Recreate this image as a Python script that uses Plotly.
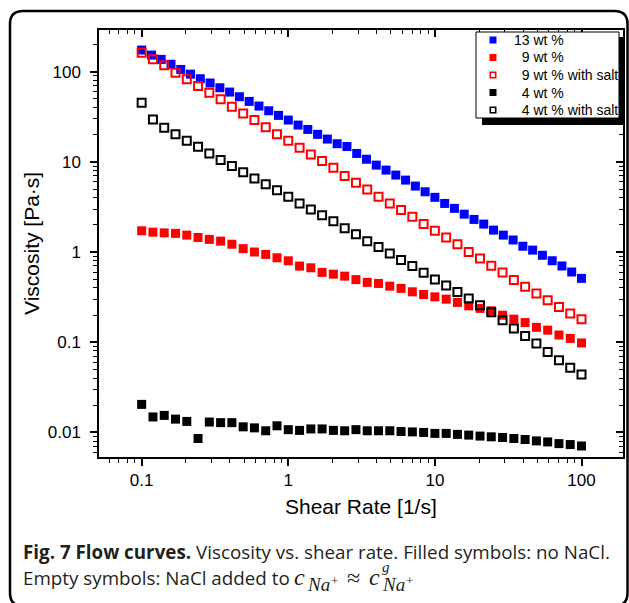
import plotly.graph_objects as go

# ---------------- data ----------------
# shear rates, 13 points per decade
rates13 = [0.1, 0.1194, 0.1425, 0.1701, 0.2031, 0.2424, 0.2894, 0.3455, 0.4125, 0.4924, 0.5878, 0.7017, 0.8377,
           1.0, 1.194, 1.425, 1.701, 2.031, 2.424, 2.894, 3.455, 4.125, 4.924, 5.878, 7.017, 8.377,
           10.0, 11.94, 14.25, 17.01, 20.31, 24.24, 28.94, 34.55, 41.25, 49.24, 58.78, 70.17, 83.77, 100.0]
# shear rates, 15 points per decade (13 wt % series)
rates15 = [0.1, 0.1166, 0.1359, 0.1585, 0.1848, 0.2154, 0.2512, 0.2929, 0.3415, 0.3981, 0.4642, 0.5412, 0.631, 0.7356, 0.8577,
           1.0, 1.166, 1.359, 1.585, 1.848, 2.154, 2.512, 2.929, 3.415, 3.981, 4.642, 5.412, 6.31, 7.356, 8.577,
           10.0, 11.66, 13.59, 15.85, 18.48, 21.54, 25.12, 29.29, 34.15, 39.81, 46.42, 54.12, 63.1, 73.56, 85.77,
           100.0]

visc_13 = [174, 153, 137, 121, 106, 94, 83.6, 75, 66.4, 59.5, 52.8, 46.9, 41.6, 36.9, 32.8, 29.1,
           25.6, 22.9, 20.2, 17.9, 15.9, 14.8, 12.4, 10.7, 9.21, 8.11, 7.14, 6.28, 5.39, 4.66, 4.04,
           3.46, 3.05, 2.63, 2.30, 2.04, 1.75, 1.54, 1.36, 1.16, 1.05, 0.92, 0.80, 0.70, 0.60, 0.51]

visc_9 = [1.72, 1.66, 1.63, 1.61, 1.54, 1.45, 1.38, 1.32, 1.22, 1.09, 1.00, 0.94, 0.863, 0.799,
          0.698, 0.668, 0.594, 0.568, 0.540, 0.494, 0.460, 0.448, 0.418, 0.395, 0.362, 0.338, 0.318,
          0.300, 0.276, 0.253, 0.237, 0.223, 0.199, 0.180, 0.165, 0.146, 0.136, 0.120, 0.110, 0.098]

visc_9_salt = [162.5, 137.3, 117.8, 97.5, 82.4, 69.4, 58.5, 49.4, 40.9, 34.5, 29.1, 24.2, 20.3, 17.1,
               14.3, 12.1, 10.2, 8.60, 6.96, 5.86, 4.95, 4.10, 3.46, 2.92, 2.46, 2.04, 1.72, 1.45, 1.22,
               1.00, 0.849, 0.703, 0.594, 0.488, 0.411, 0.347, 0.292, 0.246, 0.208, 0.179]

visc_4 = [0.0204, 0.0148, 0.0154, 0.0140, 0.0132, 0.00853, 0.0130, 0.0128, 0.0128, 0.0115, 0.0112,
          0.0104, 0.0118, 0.0107, 0.0105, 0.0109, 0.0109, 0.0105, 0.0104, 0.0107, 0.0104, 0.0104,
          0.0104, 0.0102, 0.0101, 0.00997, 0.00972, 0.00972, 0.00948, 0.00931, 0.00908, 0.00891,
          0.00875, 0.00853, 0.00832, 0.00803, 0.00782, 0.00749, 0.00731, 0.00705]

visc_4_salt = [45.3, 29.6, 23.9, 20.2, 17.1, 14.7, 12.4, 10.5, 8.98, 7.65, 6.56, 5.63, 4.83, 4.10,
               3.46, 2.97, 2.55, 2.20, 1.83, 1.57, 1.32, 1.14, 0.965, 0.813, 0.698, 0.588, 0.496,
               0.426, 0.359, 0.305, 0.257, 0.215, 0.175, 0.142, 0.117, 0.0968, 0.078, 0.063, 0.0519,
               0.0438]

NBSP = "\u00a0"
series_names = ["13 wt %", NBSP * 2 + "9 wt %", NBSP * 2 + "9 wt % with salt",
                NBSP * 2 + "4 wt %", NBSP * 2 + "4 wt % with salt"]

# ---------------- figure geometry ----------------
W, H = 629, 603
L, R, T, B = 99, 6, 30, 146
PW, PH = W - L - R, H - T - B


def px2x(px):
    return (px - L) / PW


def px2y(py):
    return (H - B - py) / PH


SANS = "Liberation Sans, Arial, sans-serif"

fig = go.Figure()

specs = [
    (rates15, visc_13, "square", "#0000ff", None),
    (rates13, visc_9, "square", "#ff0000", None),
    (rates13, visc_9_salt, "square-open", "#ff0000", 2),
    (rates13, visc_4, "square", "#000000", None),
    (rates13, visc_4_salt, "square-open", "#000000", 2),
]
for (xs, ys, sym, col, lw), name in zip(specs, series_names):
    marker = dict(symbol=sym, color=col, size=9 if lw is None else 8)
    if lw is not None:
        marker["line"] = dict(color=col, width=lw)
    else:
        marker["line"] = dict(width=0)
    fig.add_trace(go.Scatter(x=xs, y=ys, mode="markers", name=name.replace(NBSP, ""),
                             marker=marker, showlegend=False))

# dummy trace for the mirrored (inward-tick) top/right axes
fig.add_trace(go.Scatter(x=[None], y=[None], xaxis="x2", yaxis="y2", showlegend=False,
                         hoverinfo="skip", mode="markers"))

xr = [-1.291, 2.283]
yr = [-2.274, 2.463]

common = dict(type="log", showgrid=False, zeroline=False, dtick=1, exponentformat="none",
              tickcolor="black", tickwidth=1.5)

fig.update_layout(
    width=W, height=H,
    margin=dict(l=L, r=R, t=T, b=B, autoexpand=False),
    paper_bgcolor="white", plot_bgcolor="white",
    showlegend=False,
    xaxis=dict(range=xr, showline=True, linecolor="black", linewidth=1.5, mirror=True,
               ticks="outside", ticklen=7,
               tickfont=dict(family=SANS, size=17, color="black"),
               minor=dict(dtick="D1", ticks="outside", ticklen=4, tickwidth=1.2,
                          tickcolor="black", showgrid=False),
               **common),
    yaxis=dict(range=yr, showline=True, linecolor="black", linewidth=1.5, mirror=True,
               ticks="outside", ticklen=7, ticklabelstandoff=6,
               tickfont=dict(family=SANS, size=17, color="black"),
               minor=dict(dtick="D1", ticks="outside", ticklen=4, tickwidth=1.2,
                          tickcolor="black", showgrid=False),
               **common),
    xaxis2=dict(range=xr, overlaying="x", side="top", anchor="y", showline=False,
                ticks="inside", ticklen=7, showticklabels=False,
                minor=dict(dtick="D1", ticks="inside", ticklen=4, tickwidth=1.2,
                           tickcolor="black", showgrid=False),
                **common),
    yaxis2=dict(range=yr, overlaying="y", side="right", anchor="x", showline=False,
                ticks="inside", ticklen=7, showticklabels=False,
                minor=dict(dtick="D1", ticks="inside", ticklen=4, tickwidth=1.2,
                           tickcolor="black", showgrid=False),
                **common),
)

# ---------------- legend (boxed, with drop shadow) ----------------
fig.add_shape(type="rect", xref="paper", yref="paper",
              x0=px2x(482), x1=px2x(625), y0=px2y(125), y1=px2y(37),
              fillcolor="black", line=dict(width=0), layer="above")
fig.add_shape(type="rect", xref="paper", yref="paper",
              x0=px2x(476), x1=px2x(619), y0=px2y(118), y1=px2y(32),
              fillcolor="white", line=dict(color="black", width=1), layer="above")
leg_y = [40, 57.5, 75, 92.5, 110]
for (xs, ys, sym, col, lw), name, ly in zip(specs, series_names, leg_y):
    s = 3.5
    if lw is None:
        fig.add_shape(type="rect", xref="paper", yref="paper",
                      x0=px2x(493 - s), x1=px2x(493 + s), y0=px2y(ly + s), y1=px2y(ly - s),
                      fillcolor=col, line=dict(width=0), layer="above")
    else:
        fig.add_shape(type="rect", xref="paper", yref="paper",
                      x0=px2x(493 - s + 0.8), x1=px2x(493 + s - 0.8),
                      y0=px2y(ly + s - 0.8), y1=px2y(ly - s + 0.8),
                      fillcolor="white", line=dict(color=col, width=1.6), layer="above")
    fig.add_annotation(text=name, xref="paper", yref="paper", x=px2x(512), y=px2y(ly),
                       xanchor="left", yanchor="middle", showarrow=False,
                       font=dict(family=SANS, size=14, color="black"))

# rounded outer frame
fl, ft, fr, fb, rr = 10, 11, 627.5, 606, 13
path = (f"M {px2x(fl)},{px2y(fb - rr)} L {px2x(fl)},{px2y(ft + rr)} "
        f"Q {px2x(fl)},{px2y(ft)} {px2x(fl + rr)},{px2y(ft)} "
        f"L {px2x(fr - rr)},{px2y(ft)} Q {px2x(fr)},{px2y(ft)} {px2x(fr)},{px2y(ft + rr)} "
        f"L {px2x(fr)},{px2y(fb - rr)} Q {px2x(fr)},{px2y(fb)} {px2x(fr - rr)},{px2y(fb)} "
        f"L {px2x(fl + rr)},{px2y(fb)} Q {px2x(fl)},{px2y(fb)} {px2x(fl)},{px2y(fb - rr)} Z")
fig.add_shape(type="path", xref="paper", yref="paper", path=path,
              line=dict(color="black", width=2.5), fillcolor="rgba(0,0,0,0)", layer="above")

# axis titles
fig.add_annotation(text="Viscosity [Pa·s]", xref="paper", yref="paper", x=px2x(31), y=px2y(244),
                   textangle=-90, showarrow=False, xanchor="center", yanchor="middle",
                   font=dict(family=SANS, size=21, color="black"))
fig.add_annotation(text="Shear Rate [1/s]", xref="paper", yref="paper", x=px2x(361), y=px2y(507),
                   showarrow=False, xanchor="center", yanchor="middle",
                   font=dict(family=SANS, size=21, color="black"))

# caption
CAP = "Open Sans, Noto Sans, sans-serif"
CAPC = "#231f20"
fig.add_annotation(text="<b>Fig. 7 Flow curves.</b> Viscosity vs. shear rate. Filled symbols: no NaCl.",
                   xref="paper", yref="paper", x=px2x(21), y=px2y(552), showarrow=False,
                   xanchor="left", yanchor="middle", font=dict(family=CAP, size=18.8, color=CAPC))
fig.add_annotation(text="Empty symbols: NaCl added to",
                   xref="paper", yref="paper", x=px2x(21), y=px2y(578), showarrow=False,
                   xanchor="left", yanchor="middle", font=dict(family=CAP, size=18.8, color=CAPC))

SERIF = "Liberation Serif, Times New Roman, serif"
math_parts = [  # (text, left px, centre px, size)
    ("<i>c</i>", 292, 576.5, 24),
    ("<i>Na</i>", 305, 584, 19),
    ("+", 329, 580, 13),
    ("≈", 345, 578, 24),
    ("<i>c</i>", 367, 576.5, 24),
    ("<i>g</i>", 380, 567, 15),
    ("<i>Na</i>", 380, 584, 19),
    ("+", 404, 580, 13),
]
for txt, lx, cy, fs in math_parts:
    fig.add_annotation(text=txt, xref="paper", yref="paper", x=px2x(lx), y=px2y(cy),
                       showarrow=False, xanchor="left", yanchor="middle",
                       font=dict(family=SERIF, size=fs, color=CAPC))

fig.write_html("out.html", config={"displayModeBar": False},
               post_script="document.body.style.margin='0';")
